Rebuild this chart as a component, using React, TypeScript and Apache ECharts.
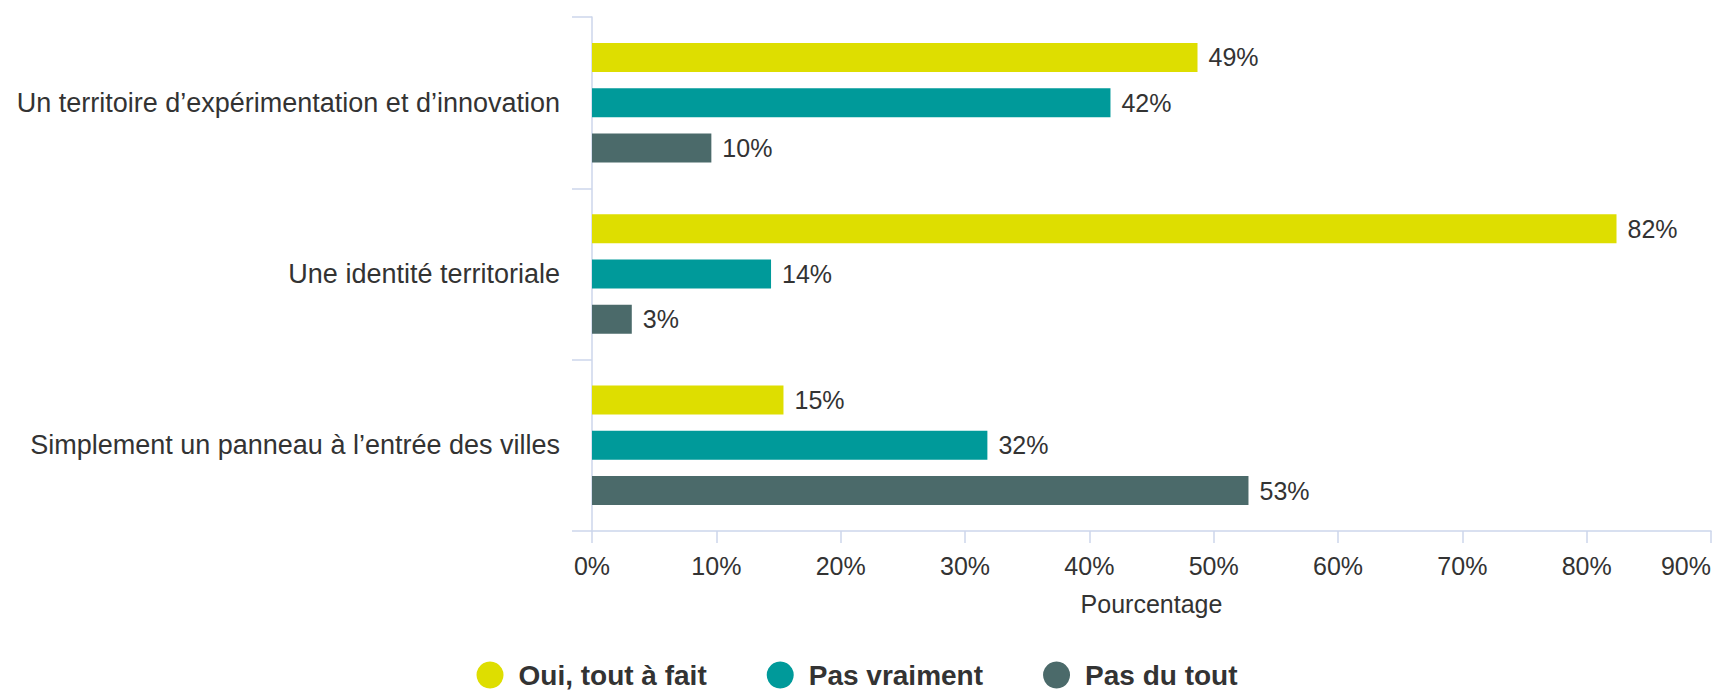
import React, { useEffect, useRef } from "react";
import * as echarts from "echarts";

const categories = [
  "Un territoire d’expérimentation et d’innovation",
  "Une identité territoriale",
  "Simplement un panneau à l’entrée des villes",
];
const seriesNames = ["Oui, tout à fait", "Pas vraiment", "Pas du tout"];
const ouiValues = [48.7, 82.4, 15.4];
const pasVraimentValues = [41.7, 14.4, 31.8];
const pasDuToutValues = [9.6, 3.2, 52.8];
const seriesColors = ["#dede00", "#009a9a", "#4b6a6a"];
const xMin = 0;
const xMax = 90;
const xInterval = 10;
const xAxisName = "Pourcentage";

const FONT = "'Liberation Sans', Arial, Helvetica, sans-serif";

export default function App() {
  const ref = useRef<HTMLDivElement>(null);

  useEffect(() => {
    if (!ref.current) return;
    const chart = echarts.init(ref.current, null, { renderer: "svg" });
    const values = [ouiValues, pasVraimentValues, pasDuToutValues];
    const axisColor = "#ccd6eb";
    chart.setOption({
      animation: false,
      textStyle: { fontFamily: FONT },
      grid: { left: 592, right: 0, top: 17, bottom: 159 },
      legend: {
        data: seriesNames,
        left: "center",
        top: 656,
        icon: "circle",
        itemWidth: 27,
        itemHeight: 27,
        itemGap: 60,
        textStyle: {
          fontFamily: FONT,
          fontSize: 28,
          fontWeight: "bold",
          color: "#333333",
          padding: [0, 0, 0, 10],
        },
      },
      xAxis: {
        type: "value",
        min: xMin,
        max: xMax,
        interval: xInterval,
        name: xAxisName,
        nameLocation: "middle",
        nameGap: 60,
        nameTextStyle: { fontFamily: FONT, fontSize: 25, color: "#333333" },
        axisLine: { show: true, lineStyle: { color: axisColor, width: 1.5 } },
        axisTick: { show: true, length: 12, lineStyle: { color: axisColor, width: 1.5 } },
        splitLine: { show: false },
        axisLabel: {
          formatter: "{value}%",
          margin: 22,
          fontFamily: FONT,
          fontSize: 25,
          color: "#333333",
          alignMaxLabel: "right",
        },
      },
      yAxis: {
        type: "category",
        inverse: true,
        data: categories,
        axisLine: { show: true, lineStyle: { color: axisColor, width: 1.5 } },
        axisTick: { show: true, length: 20, lineStyle: { color: axisColor, width: 1.5 } },
        axisLabel: {
          margin: 32,
          fontFamily: FONT,
          fontSize: 27,
          color: "#333333",
        },
      },
      series: seriesNames.map((name, i) => ({
        name,
        type: "bar",
        data: values[i],
        barWidth: 29,
        barGap: "56%",
        itemStyle: { color: seriesColors[i] },
        label: {
          show: true,
          position: "right",
          distance: 11,
          fontFamily: FONT,
          fontSize: 25,
          color: "#333333",
          formatter: (p: any) => `${Math.round(p.value)}%`,
        },
      })),
    });
    return () => chart.dispose();
  }, []);

  return (
    <div
      ref={ref}
      style={{ position: "fixed", left: 0, top: 0, width: "1714px", height: "690px", background: "#ffffff" }}
    />
  );
}
